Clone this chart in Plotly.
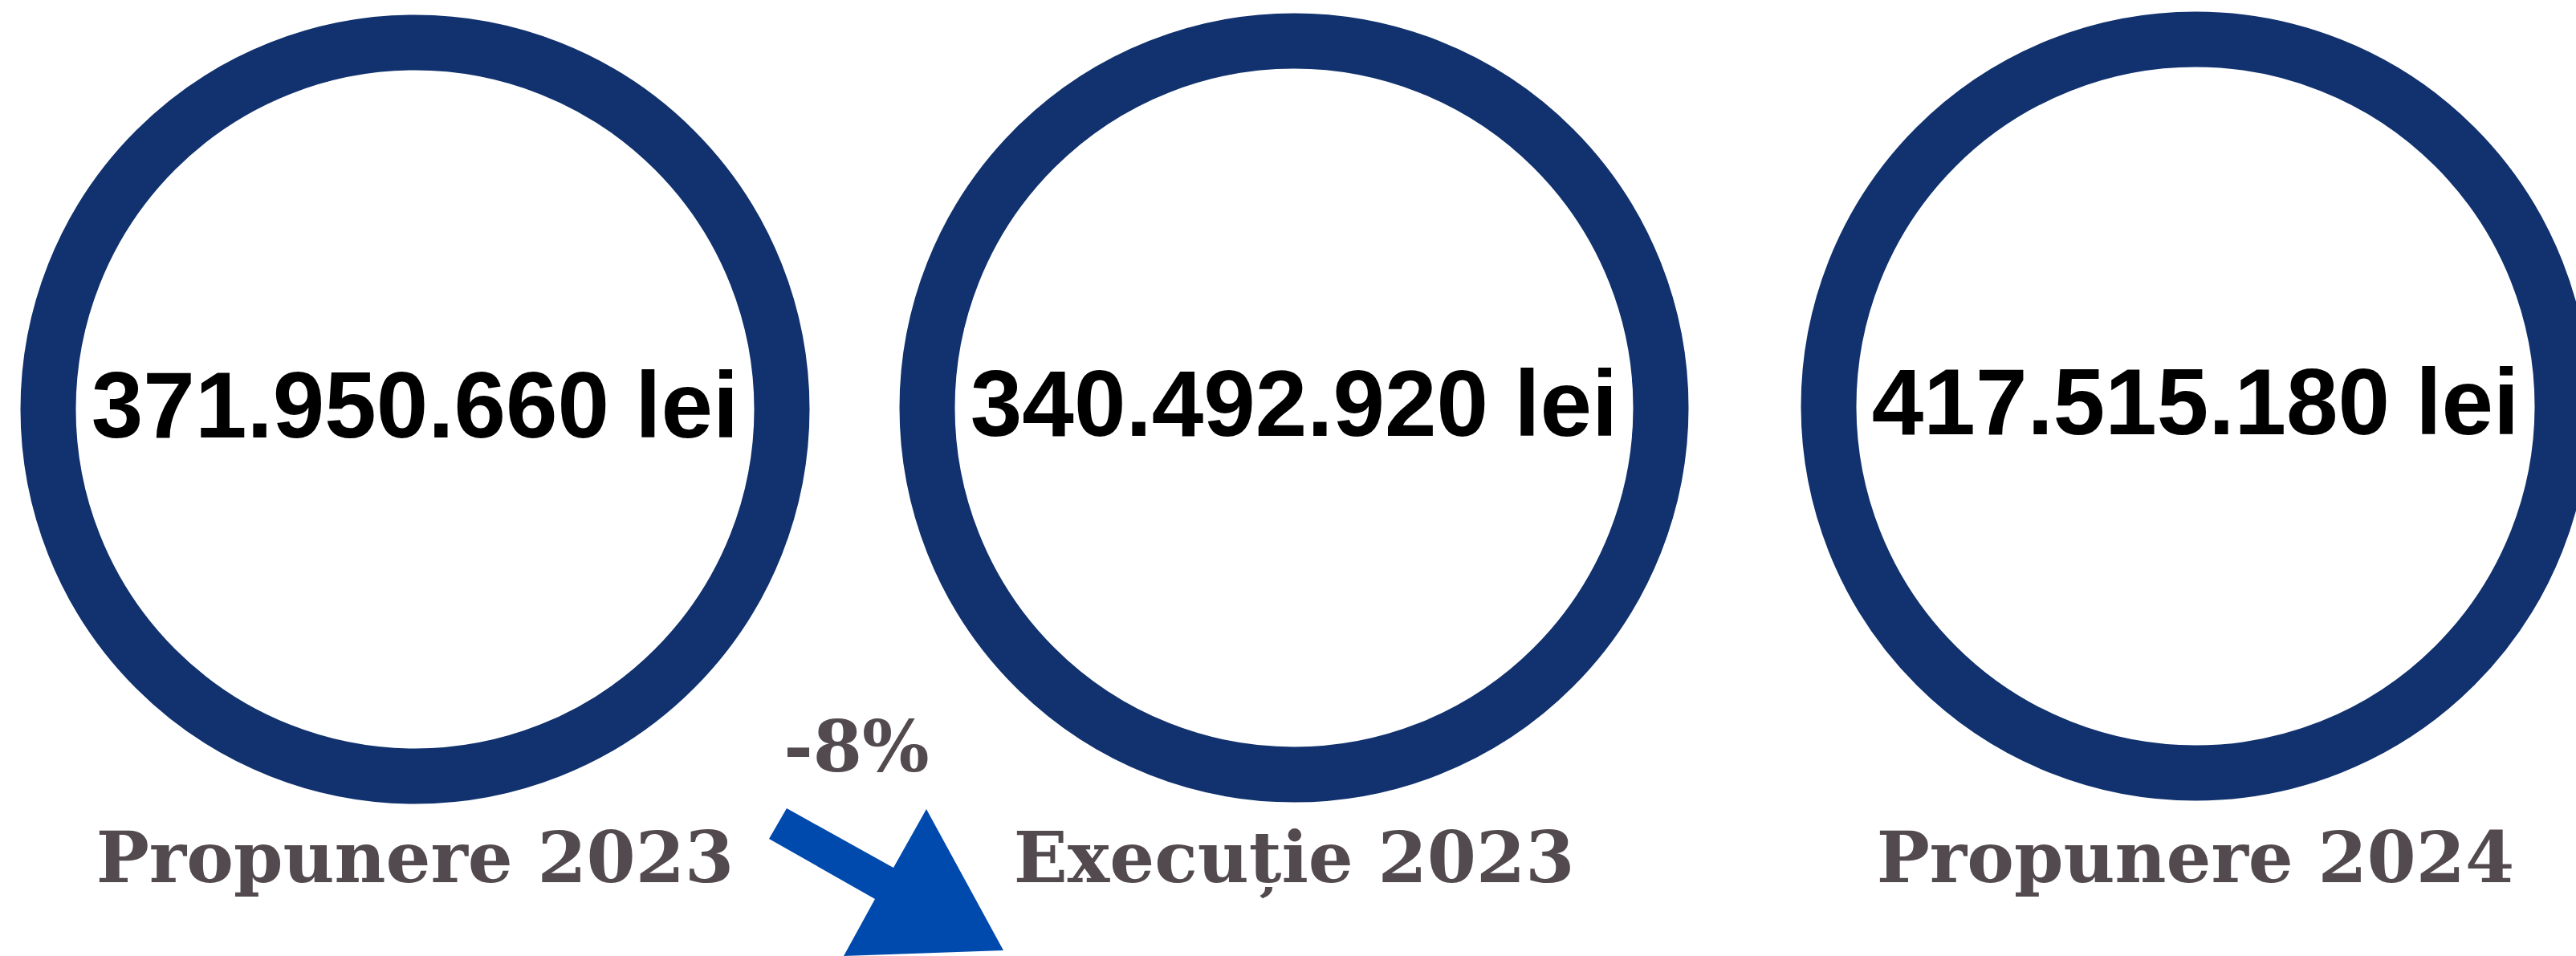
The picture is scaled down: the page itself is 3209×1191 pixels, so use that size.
import plotly.graph_objects as go

# ---- data ----
categories = ["Propunere 2023", "Execuție 2023", "Propunere 2024"]
values = [371950660, 340492920, 417515180]
unit = "lei"

# ---- layout constants (pixel space) ----
W, H = 3209, 1191
centers_x = [517, 1612, 2735]
centers_y = [510, 508, 506]
ring_r = 457
ring_w = 69
value_dy = 6
label_y = 1077
change_y = 939
ring_color = "#11326E"
arrow_color = "#004AAD"
label_color = "#524A4E"


def fmt(v):
    return f"{v:,}".replace(",", ".") + " " + unit


change = (values[1] - values[0]) / values[0] * 100
change_txt = f"{round(change):d}%"

fig = go.Figure()

shapes = []
for cx, cy in zip(centers_x, centers_y):
    shapes.append(dict(type="circle", xref="x", yref="y",
                       x0=cx - ring_r, x1=cx + ring_r, y0=cy - ring_r, y1=cy + ring_r,
                       line=dict(color=ring_color, width=ring_w), fillcolor="rgba(0,0,0,0)"))

# arrow showing the change between the first two categories
arrow_pts = [(980, 1007), (1113, 1081), (1154, 1008), (1250, 1184),
             (1051, 1191), (1090, 1120), (958, 1045)]
path = "M " + " L ".join(f"{x},{y}" for x, y in arrow_pts) + " Z"
shapes.append(dict(type="path", xref="x", yref="y", path=path,
                   fillcolor=arrow_color, line=dict(width=0)))

# value texts
fig.add_trace(go.Scatter(
    x=centers_x, y=[c + value_dy for c in centers_y], mode="text",
    text=[fmt(v) for v in values], textposition="middle center",
    textfont=dict(family="Liberation Sans", size=116, color="#000000", weight="bold"),
    hoverinfo="skip", showlegend=False))

# category labels
fig.add_trace(go.Scatter(
    x=centers_x, y=[label_y] * len(categories), mode="text",
    text=categories, textposition="middle center",
    textfont=dict(family="DejaVu Serif", size=88, color=label_color, weight="bold"),
    hoverinfo="skip", showlegend=False))

# change label
fig.add_trace(go.Scatter(
    x=[1067], y=[change_y], mode="text", text=[change_txt], textposition="middle center",
    textfont=dict(family="DejaVu Serif", size=88, color=label_color, weight="bold"),
    hoverinfo="skip", showlegend=False))

fig.update_layout(
    width=W, height=H,
    margin=dict(l=0, r=0, t=0, b=0),
    paper_bgcolor="white", plot_bgcolor="white",
    shapes=shapes,
    xaxis=dict(range=[0, W], visible=False, fixedrange=True),
    yaxis=dict(range=[H, 0], visible=False, fixedrange=True),
    showlegend=False,
)

fig.write_html(
    "out.html",
    config={"displayModeBar": False},
    post_script="document.body.style.margin='0';document.body.style.overflow='hidden';",
)
